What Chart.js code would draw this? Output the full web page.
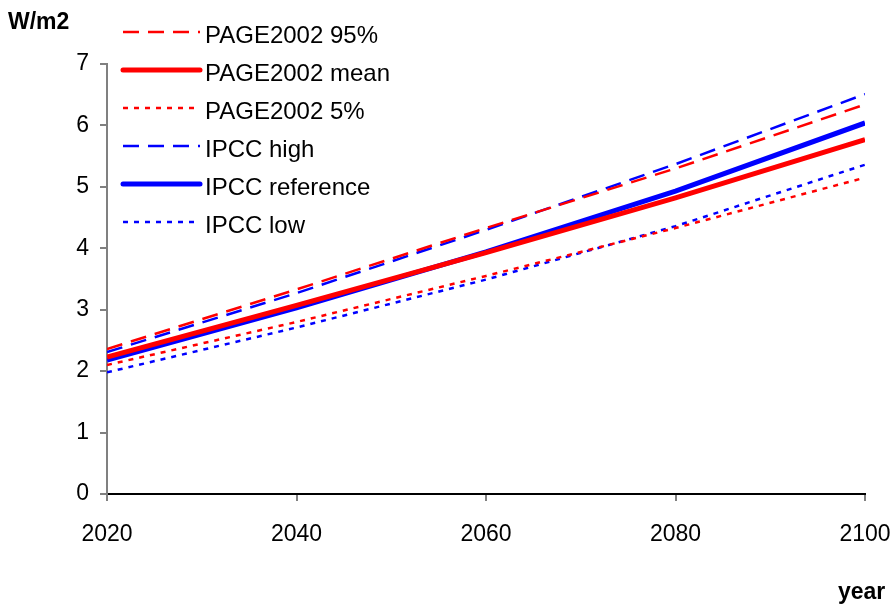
<!DOCTYPE html>
<html>
<head>
<meta charset="utf-8">
<script src="https://cdn.jsdelivr.net/npm/chart.js@4/dist/chart.umd.min.js"></script>
<style>
  html, body { margin: 0; padding: 0; background: #fff; }
  #wrap { position: relative; width: 893px; height: 606px; }
  .lbl { position: absolute; font-family: "Liberation Sans", Arial, sans-serif; font-weight: bold; font-size: 23px; line-height: 1; color: #000; }
</style>
</head>
<body>
<div id="wrap">
  <canvas id="forcing"></canvas>
  <div class="lbl" style="left:8px; top:10px;">W/m2</div>
  <div class="lbl" style="left:838px; top:580px;">year</div>
</div>
<script>
const years = [2020, 2040, 2060, 2080, 2100];
const yTicks = [0, 1, 2, 3, 4, 5, 6, 7];

const page95 = [2.36, 3.33, 4.33, 5.3, 6.34];
const pageMean = [2.23, 3.07, 3.93, 4.82, 5.77];
const page5 = [2.1, 2.8, 3.55, 4.33, 5.15];
const ipccHigh = [2.31, 3.27, 4.3, 5.37, 6.51];
const ipccRef = [2.18, 3.03, 3.94, 4.93, 6.04];
const ipccLow = [1.98, 2.71, 3.49, 4.36, 5.36];

const RED = "#ff0000";
const BLUE = "#0000ff";
const DASH = [16, 9];
const DOT = [5, 6];
const FONT = "'Liberation Sans', Arial, sans-serif";

const toPoints = (vals) => vals.map((v, i) => ({ x: years[i], y: v }));

const series = [
  { label: "PAGE2002 95%", data: page95, color: RED, width: 2.5, dash: DASH },
  { label: "PAGE2002 mean", data: pageMean, color: RED, width: 5, dash: [] },
  { label: "PAGE2002 5%", data: page5, color: RED, width: 2.5, dash: DOT },
  { label: "IPCC high", data: ipccHigh, color: BLUE, width: 2.5, dash: DASH },
  { label: "IPCC reference", data: ipccRef, color: BLUE, width: 5, dash: [] },
  { label: "IPCC low", data: ipccLow, color: BLUE, width: 2.5, dash: DOT },
];

// legend stacked down the upper left, over the plot like the original
const sideLegend = {
  id: "sideLegend",
  afterDraw(chart) {
    const ctx = chart.ctx;
    ctx.save();
    chart.data.datasets.forEach((ds, i) => {
      const y = 32 + i * 38;
      ctx.beginPath();
      ctx.strokeStyle = ds.borderColor;
      ctx.lineWidth = ds.borderWidth;
      ctx.setLineDash(ds.borderDash || []);
      ctx.lineCap = ds.borderDash.length ? "butt" : "round";
      ctx.moveTo(123, y);
      ctx.lineTo(200, y);
      ctx.stroke();
      ctx.setLineDash([]);
      ctx.fillStyle = "#000";
      ctx.font = "24px " + FONT;
      ctx.textBaseline = "middle";
      ctx.textAlign = "left";
      ctx.fillText(ds.label, 205, y + 4);
    });
    ctx.restore();
  },
};

new Chart(document.getElementById("forcing"), {
  type: "line",
  data: {
    datasets: series.map((s) => ({
      label: s.label,
      data: toPoints(s.data),
      borderColor: s.color,
      backgroundColor: s.color,
      borderWidth: s.width,
      borderDash: s.dash,
      pointRadius: 0,
      tension: 0,
      fill: false,
    })),
  },
  options: {
    responsive: true,
    maintainAspectRatio: false,
    animation: false,
    devicePixelRatio: 1,
    layout: { padding: { top: 64, right: 28, left: 0, bottom: 0 } },
    plugins: {
      legend: { display: false },
      tooltip: { enabled: false },
      title: { display: false },
    },
    scales: {
      x: {
        type: "linear",
        min: years[0],
        max: years[years.length - 1],
        afterBuildTicks: (scale) => {
          scale.ticks = years.map((v) => ({ value: v }));
        },
        afterFit: (scale) => {
          scale.height = 112;
          scale.paddingLeft = 0;
          scale.paddingRight = 0;
        },
        ticks: {
          color: "#000",
          font: { family: FONT, size: 23 },
          padding: 20,
          maxRotation: 0,
          callback: (v) => String(v),
        },
        grid: { display: true, drawOnChartArea: false, drawTicks: true, tickLength: 7, color: "#808080", lineWidth: 2 },
        border: { display: true, color: "#000", width: 2 },
      },
      y: {
        min: 0,
        max: 7,
        afterBuildTicks: (scale) => {
          scale.ticks = yTicks.map((v) => ({ value: v }));
        },
        afterFit: (scale) => {
          scale.width = 107;
        },
        ticks: {
          color: "#000",
          font: { family: FONT, size: 23 },
          padding: 11,
        },
        grid: { display: true, drawOnChartArea: false, drawTicks: true, tickLength: 7, color: "#808080", lineWidth: 2 },
        border: { display: true, color: "#808080", width: 2 },
      },
    },
  },
  plugins: [sideLegend],
});
</script>
</body>
</html>
